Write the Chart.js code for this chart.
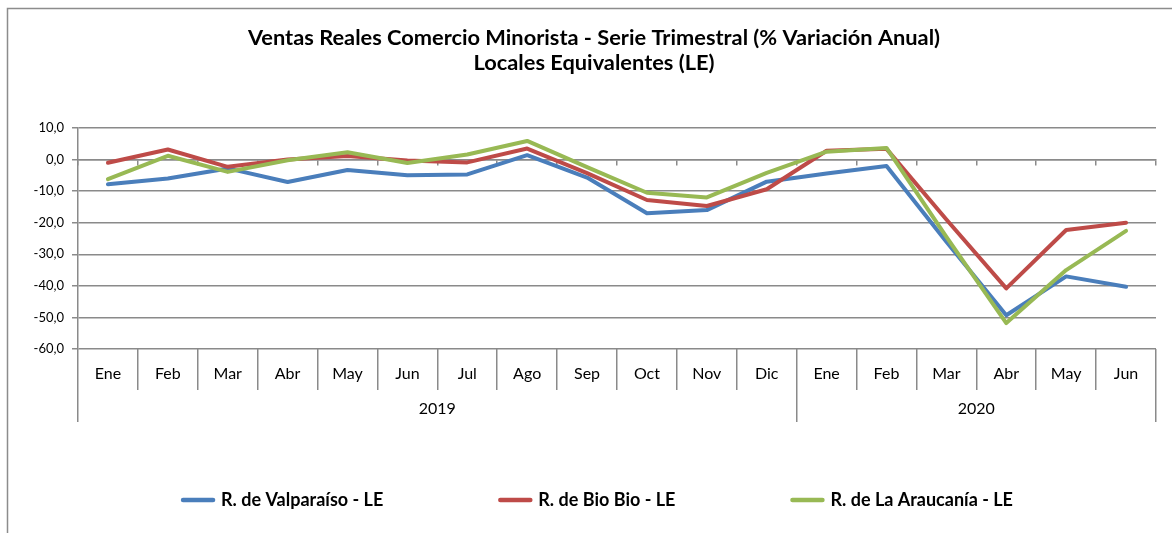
<!DOCTYPE html>
<html>
<head>
<meta charset="utf-8">
<script src="https://cdn.jsdelivr.net/npm/chart.js@4.4.1/dist/chart.umd.min.js"></script>
<style>
  html, body { margin: 0; padding: 0; background: #fff; }
  canvas { display: block; }
</style>
</head>
<body>
<canvas id="ventasChart" width="1172" height="533"></canvas>
<script>
// datos
const months = ['Ene', 'Feb', 'Mar', 'Abr', 'May', 'Jun', 'Jul', 'Ago', 'Sep', 'Oct', 'Nov', 'Dic', 'Ene', 'Feb', 'Mar', 'Abr', 'May', 'Jun'];
const years = ['2019', '2020'];
const monthsPerYear = [12, 6];
const yTicks = [10, 0, -10, -20, -30, -40, -50, -60];

const valparaiso = [-7.8, -6.0, -2.8, -7.1, -3.3, -5.0, -4.7, 1.4, -5.7, -17.0, -16.0, -7.0, -4.4, -2.0, -26.0, -49.3, -37.0, -40.3];
const bioBio = [-1.0, 3.2, -2.3, 0.0, 1.1, -0.3, -0.9, 3.5, -4.3, -12.8, -14.7, -9.4, 2.8, 3.4, -19.0, -40.8, -22.3, -20.0];
const araucania = [-6.2, 1.2, -3.9, -0.2, 2.3, -1.1, 1.6, 5.9, -2.4, -10.5, -12.0, -4.2, 2.5, 3.7, -24.5, -51.8, -35.0, -22.6];

const gridGray = '#8a8a8a';
const fontFam = 'Lato, "Open Sans", sans-serif';

// limites y centros de cada año en el eje de categorias
const yearTicks = [];
let start = -0.5;
monthsPerYear.forEach(n => {
  yearTicks.push(start, start + n / 2);
  start += n;
});
yearTicks.push(start);

// marco gris del area del grafico
const chartFrame = {
  id: 'chartFrame',
  beforeDraw(chart) {
    const c = chart.ctx;
    c.save();
    c.fillStyle = '#fff';
    c.fillRect(0, 0, chart.width, chart.height);
    c.strokeStyle = '#8c8c8c';
    c.lineWidth = 1.5;
    c.strokeRect(7.5, 8.5, chart.width + 20, chart.height + 20);
    c.restore();
  }
};

// leyenda con muestra de linea, espaciada como en excel
const lineLegend = {
  id: 'lineLegend',
  afterDraw(chart) {
    const c = chart.ctx;
    const sets = chart.data.datasets;
    c.save();
    c.font = 'bold 18px ' + fontFam;
    c.textBaseline = 'middle';
    const sample = 34, gapText = 6, gapItem = 115;
    const widths = sets.map(d => sample + gapText + c.measureText(d.label).width);
    const total = widths.reduce((a, b) => a + b, 0) + gapItem * (sets.length - 1);
    let x = 597 - total / 2;
    const y = 500;
    sets.forEach((d, i) => {
      c.strokeStyle = d.borderColor;
      c.lineWidth = 4.5;
      c.lineCap = 'round';
      c.beginPath();
      c.moveTo(x + 2, y);
      c.lineTo(x + sample - 2, y);
      c.stroke();
      c.fillStyle = '#000';
      c.fillText(d.label, x + sample + gapText, y);
      x += widths[i] + gapItem;
    });
    c.restore();
  }
};

new Chart(document.getElementById('ventasChart'), {
  type: 'line',
  data: {
    labels: months,
    datasets: [
      { label: 'R. de Valparaíso - LE', data: valparaiso, borderColor: '#4a7ebb', order: 2, xAxisID: 'x', yAxisID: 'y' },
      { label: 'R. de Bio Bio - LE', data: bioBio, borderColor: '#be4b48', order: 1, xAxisID: 'x', yAxisID: 'y' },
      { label: 'R. de La Araucanía - LE', data: araucania, borderColor: '#98b954', order: 0, xAxisID: 'x', yAxisID: 'y' }
    ]
  },
  options: {
    responsive: false,
    devicePixelRatio: 1,
    animation: false,
    layout: { padding: { left: 32, right: 16, top: 0, bottom: 111 } },
    elements: {
      line: { borderWidth: 4, tension: 0, borderCapStyle: 'round', borderJoinStyle: 'round' },
      point: { radius: 0, hoverRadius: 0 }
    },
    plugins: {
      legend: { display: false },
      tooltip: { enabled: false },
      title: {
        display: true,
        text: ['Ventas Reales Comercio Minorista - Serie Trimestral (% Variación Anual)', 'Locales Equivalentes (LE)'],
        color: '#000',
        font: { family: fontFam, size: 21.8, weight: 'bold', lineHeight: 1.147 },
        padding: { top: 25.5, bottom: 52.5 }
      }
    },
    scales: {
      x: {
        type: 'category',
        offset: true,
        afterFit: s => { s.height = 41; },
        grid: { offset: true, drawOnChartArea: false, drawTicks: true, tickLength: 41, color: gridGray, lineWidth: 1.5 },
        border: { display: false },
        ticks: { padding: -25.6, color: '#000', font: { family: fontFam, size: 16 }, autoSkip: false, maxRotation: 0 }
      },
      x2: {
        type: 'linear',
        position: 'bottom',
        weight: 1,
        bounds: 'data',
        min: yearTicks[0],
        max: yearTicks[yearTicks.length - 1],
        afterBuildTicks: s => { s.ticks = yearTicks.map(v => ({ value: v })); },
        afterFit: s => { s.height = 32; },
        grid: {
          drawOnChartArea: false,
          tickLength: 32,
          lineWidth: 1.5,
          color: ctx => (ctx.index % 2 === 0 ? gridGray : 'rgba(0,0,0,0)')
        },
        border: { display: false },
        ticks: {
          padding: -22.6,
          color: '#000',
          font: { family: fontFam, size: 16 },
          autoSkip: false,
          maxRotation: 0,
          callback: (v, i) => (i % 2 === 1 ? years[(i - 1) / 2] : '')
        }
      },
      x0: {
        type: 'category',
        position: { y: 0 },
        offset: true,
        grid: { offset: true, drawOnChartArea: false, tickLength: 5, color: gridGray, lineWidth: 1.5 },
        border: { display: true, color: gridGray, width: 1.5 },
        ticks: { display: false }
      },
      y: {
        min: -60,
        max: 10,
        afterBuildTicks: s => { s.ticks = yTicks.map(v => ({ value: v })); },
        afterFit: s => { s.width = 46; },
        grid: { color: gridGray, lineWidth: 1.5, tickLength: 6 },
        border: { color: gridGray, width: 1.5 },
        ticks: {
          padding: 8,
          color: '#000',
          font: { family: fontFam, size: 13 },
          callback: v => v.toFixed(1).replace('.', ',')
        }
      }
    }
  },
  plugins: [chartFrame, lineLegend]
});
</script>
</body>
</html>
